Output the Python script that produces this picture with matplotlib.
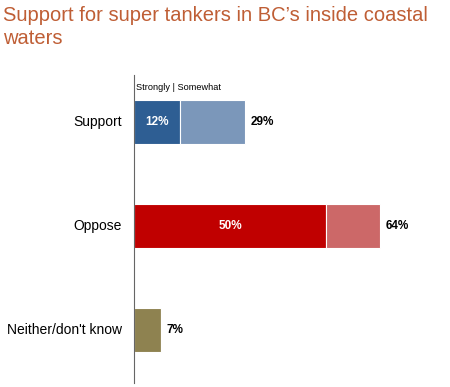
import matplotlib.pyplot as plt

# data
categories = ['Support', 'Oppose', 'Neither/don\'t know']
strongly = [12, 50, 7]
total = [29, 64, 7]
inner_labels = ['12%', '50%', '']
outer_labels = ['29%', '64%', '7%']

strong_colors = ['#2E5E93', '#C00000', '#8E8250']
some_colors = ['#7B97BA', '#CC6868', '#8E8250']

plt.rcParams['font.family'] = ['Liberation Sans', 'DejaVu Sans']

fig = plt.figure(figsize=(4.5, 3.87), dpi=100)
ax = fig.add_axes([134 / 450, 0.0103, (450 - 134) / 450, 0.796])

ypos = list(range(len(categories)))
somewhat = [t - s for t, s in zip(total, strongly)]

ax.barh(ypos, strongly, height=0.42, color=strong_colors, edgecolor='white', linewidth=0.8)
ax.barh(ypos, somewhat, left=strongly, height=0.42, color=some_colors, edgecolor='white', linewidth=0.8)

for y, s, t, il, ol in zip(ypos, strongly, total, inner_labels, outer_labels):
    if il:
        ax.text(s / 2, y, il, ha='center', va='center', color='white',
                fontsize=8.5, fontweight='bold')
    ax.text(t + 1.5, y, ol, ha='left', va='center', color='black',
            fontsize=8.5, fontweight='bold')
    ax.text(-3.2, y, categories[y], ha='right', va='center', color='black',
            fontsize=10)

ax.text(0.5, -0.33, 'Strongly | Somewhat', ha='left', va='center', fontsize=6.6)

ax.set_xlim(0, 82.3)
ax.set_ylim(2.51, -0.45)
for side in ['top', 'right', 'bottom']:
    ax.spines[side].set_visible(False)
ax.spines['left'].set_color('#666666')
ax.spines['left'].set_linewidth(0.8)
ax.set_xticks([])
ax.set_yticks([])

fig.text(3 / 450, 1 - 6 / 387, 'Support for super tankers in BC\u2019s inside coastal\nwaters',
         ha='left', va='top', color='#BF5E35', fontsize=14.5, linespacing=1.3)

fig.savefig('out.png', dpi=100)
